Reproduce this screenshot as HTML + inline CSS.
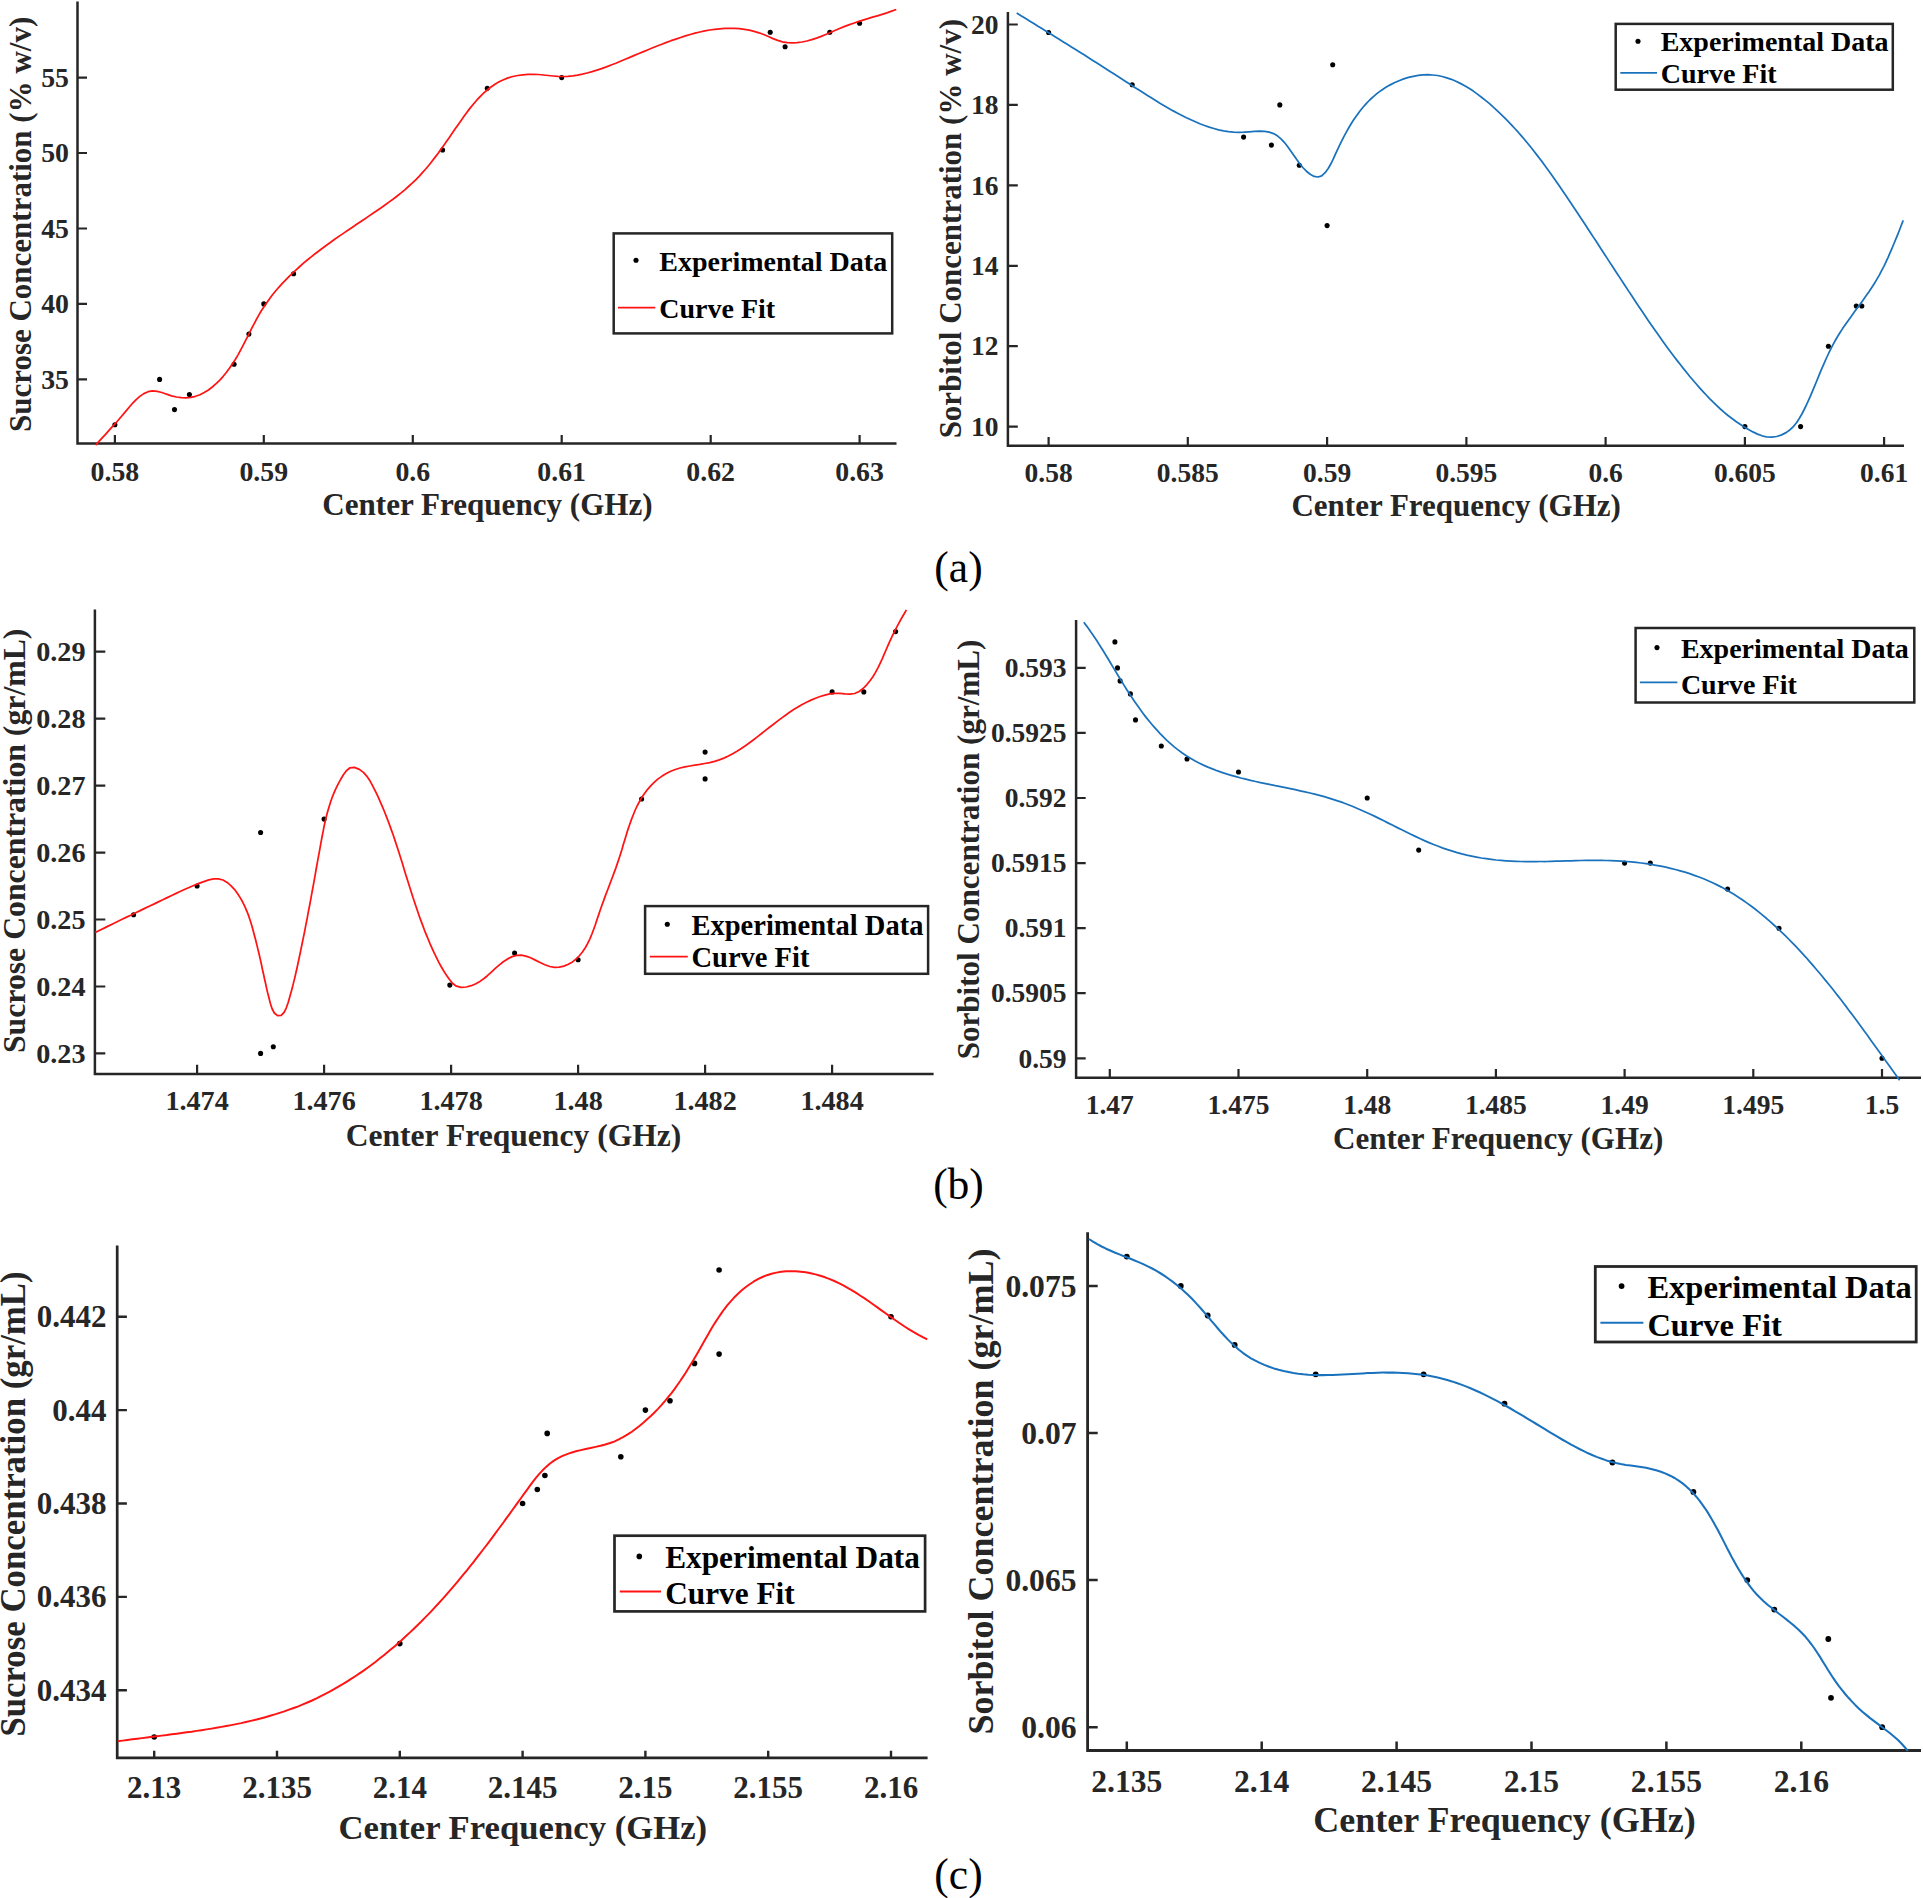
<!DOCTYPE html>
<html lang="en">
<head>
<meta charset="utf-8">
<title>Curve fits of sucrose and sorbitol concentration versus center frequency</title>
<style>
html,body{margin:0;padding:0;background:#fff;}
body{width:1923px;height:1898px;overflow:hidden;}
svg{display:block;}
text{font-family:'Liberation Serif', 'Times New Roman', Times, serif;}
.b{font-weight:bold;}
.ax{fill:#262626;}
.lg{fill:#000;}
</style>
</head>
<body>
<svg width="1923" height="1898" viewBox="0 0 1923 1898">
<rect x="0" y="0" width="1923" height="1898" fill="#ffffff"/>
<g id="panel1">
<path d="M77.5 1.5 V443.4 H896.5" fill="none" stroke="#262626" stroke-width="2.5" stroke-linecap="butt" stroke-linejoin="miter"/>
<path d="M77.5 379.4 h9.5 M77.5 303.9 h9.5 M77.5 228.5 h9.5 M77.5 153 h9.5 M77.5 77.6 h9.5 M114.9 443.4 v-8.4 M263.8 443.4 v-8.4 M412.8 443.4 v-8.4 M561.7 443.4 v-8.4 M710.7 443.4 v-8.4 M859.6 443.4 v-8.4" fill="none" stroke="#262626" stroke-width="2.2"/>
<circle cx="114.9" cy="424.7" r="2.55" fill="#000"/><circle cx="159.6" cy="379.4" r="2.55" fill="#000"/><circle cx="174.5" cy="409.6" r="2.55" fill="#000"/><circle cx="189.4" cy="394.5" r="2.55" fill="#000"/><circle cx="234.1" cy="364.3" r="2.55" fill="#000"/><circle cx="248.9" cy="334.1" r="2.55" fill="#000"/><circle cx="263.8" cy="303.9" r="2.55" fill="#000"/><circle cx="293.6" cy="273.8" r="2.55" fill="#000"/><circle cx="442.6" cy="150" r="2.55" fill="#000"/><circle cx="487.3" cy="88.2" r="2.55" fill="#000"/><circle cx="561.7" cy="77.6" r="2.55" fill="#000"/><circle cx="770.2" cy="32.3" r="2.55" fill="#000"/><circle cx="785.1" cy="46.7" r="2.55" fill="#000"/><circle cx="829.8" cy="32.3" r="2.55" fill="#000"/><circle cx="859.6" cy="23.3" r="2.55" fill="#000"/>
<path d="M95.6 445.1 L99.2 441.2 L102.7 437.4 L106 433.8 L109.2 430.2 L112.4 426.7 L115.6 423.2 L118.8 419.5 L122 415.8 L125.3 411.9 L128.7 407.8 L132.2 403.7 L135.9 399.8 L139.8 396.4 L143.8 393.6 L148.1 391.7 L152.5 390.9 L157.2 391.3 L161.9 392.5 L166.6 394.2 L171.5 395.8 L176.5 397 L181.4 397.7 L186.2 397.9 L190.9 397.4 L195.5 396.3 L200 394.7 L204.2 392.5 L208.4 390 L212.3 387 L216.1 383.7 L219.8 380.1 L223.2 376.3 L226.5 372.3 L229.6 368.1 L232.5 363.8 L235.3 359.5 L237.9 355.1 L240.3 350.7 L242.7 346.2 L245 341.7 L247.3 337.2 L249.6 332.7 L251.8 328.2 L254.1 323.8 L256.4 319.4 L258.8 315.1 L261.3 310.8 L264 306.7 L266.7 302.7 L269.6 298.7 L272.5 294.8 L275.6 291 L278.8 287.3 L282.1 283.7 L285.5 280.1 L288.9 276.6 L292.5 273.2 L296.1 269.8 L299.8 266.5 L303.5 263.2 L307.3 260 L311.2 256.9 L315.1 253.8 L319.1 250.7 L323.1 247.7 L327.2 244.7 L331.3 241.7 L335.4 238.8 L339.6 235.9 L343.7 233.1 L347.9 230.2 L352.1 227.4 L356.3 224.6 L360.5 221.7 L364.7 218.9 L368.8 216.1 L373 213.3 L377.1 210.5 L381.2 207.7 L385.3 204.8 L389.3 201.9 L393.3 199 L397.2 196 L401.1 192.9 L404.8 189.8 L408.5 186.5 L412.2 183.2 L415.7 179.8 L419.1 176.3 L422.4 172.7 L425.7 169 L428.9 165.2 L432 161.3 L435 157.4 L438 153.4 L440.9 149.3 L443.9 145.2 L446.8 141.1 L449.7 136.9 L452.5 132.8 L455.4 128.6 L458.3 124.4 L461.3 120.2 L464.2 116 L467.2 111.9 L470.3 107.9 L473.5 104 L476.7 100.2 L480.1 96.6 L483.6 93.2 L487.2 90 L491 87 L495 84.2 L499.1 81.8 L503.5 79.7 L508 77.9 L512.8 76.5 L517.7 75.5 L522.8 74.8 L528 74.4 L533.1 74.3 L538.2 74.5 L543.3 75 L548.2 75.5 L553.1 76 L558 76.4 L562.9 76.5 L567.8 76.3 L572.7 75.8 L577.6 75.1 L582.4 74.2 L587.2 73 L592.1 71.7 L596.9 70.2 L601.6 68.6 L606.4 66.9 L611.1 65 L615.8 63.2 L620.5 61.2 L625.2 59.3 L629.8 57.4 L634.4 55.4 L638.9 53.5 L643.5 51.6 L648.1 49.7 L652.7 47.8 L657.2 46 L661.8 44.2 L666.5 42.4 L671.1 40.7 L675.8 39.1 L680.6 37.5 L685.4 35.9 L690.2 34.5 L695 33.2 L699.9 32 L704.8 30.9 L709.7 30 L714.7 29.3 L719.6 28.8 L724.6 28.4 L729.5 28.3 L734.5 28.3 L739.4 28.7 L744.4 29.3 L749.3 30.1 L754.1 31.3 L759 32.8 L763.7 34.5 L768.4 36.5 L773 38.6 L777.7 40.4 L782.4 41.8 L787.2 42.7 L792.1 42.9 L797 42.7 L802 42 L806.9 41 L811.7 39.7 L816.5 38.1 L821.2 36.4 L825.8 34.5 L830.4 32.5 L834.9 30.5 L839.5 28.5 L844.1 26.6 L848.8 24.9 L853.5 23.2 L858.2 21.6 L863 20.1 L867.8 18.7 L872.5 17.2 L877.3 15.8 L882.1 14.3 L886.9 12.8 L891.6 11.2 L896.3 9.5" fill="none" stroke="#ff1414" stroke-width="1.75" stroke-linejoin="round" stroke-linecap="butt"/>
<g class="b ax" font-size="27.8">
<text x="69" y="388.7" text-anchor="end">35</text><text x="69" y="313.2" text-anchor="end">40</text><text x="69" y="237.8" text-anchor="end">45</text><text x="69" y="162.3" text-anchor="end">50</text><text x="69" y="86.9" text-anchor="end">55</text>
<text x="114.9" y="481" text-anchor="middle">0.58</text><text x="263.8" y="481" text-anchor="middle">0.59</text><text x="412.8" y="481" text-anchor="middle">0.6</text><text x="561.7" y="481" text-anchor="middle">0.61</text><text x="710.7" y="481" text-anchor="middle">0.62</text><text x="859.6" y="481" text-anchor="middle">0.63</text>
</g>
<text class="b ax" x="487.5" y="515" font-size="31.1" text-anchor="middle">Center Frequency (GHz)</text>
<text class="b ax" transform="translate(30.8 224.4) rotate(-90)" font-size="31.0" text-anchor="middle">Sucrose Concentration (% w/v)</text>
<rect x="613.7" y="233.4" width="278.5" height="100" fill="#ffffff" stroke="#262626" stroke-width="2.5"/>
<circle cx="636" cy="260.2" r="2.55" fill="#000"/><path d="M618 307.7 H655.3" stroke="#ff1414" stroke-width="1.75" fill="none"/>
<text class="b lg" x="659.3" y="271" font-size="28.0">Experimental Data</text><text class="b lg" x="659.3" y="318.4" font-size="28.0">Curve Fit</text>
</g>
<g id="panel2">
<path d="M1007.9 12 V445.8 H1904" fill="none" stroke="#262626" stroke-width="2.5" stroke-linecap="butt" stroke-linejoin="miter"/>
<path d="M1007.9 426.6 h9.9 M1007.9 346.2 h9.9 M1007.9 265.8 h9.9 M1007.9 185.3 h9.9 M1007.9 104.9 h9.9 M1007.9 24.5 h9.9 M1048.6 445.8 v-8.8 M1187.8 445.8 v-8.8 M1327.1 445.8 v-8.8 M1466.4 445.8 v-8.8 M1605.6 445.8 v-8.8 M1744.9 445.8 v-8.8 M1884.1 445.8 v-8.8" fill="none" stroke="#262626" stroke-width="2.2"/>
<circle cx="1048.6" cy="32.5" r="2.55" fill="#000"/><circle cx="1132.2" cy="84.8" r="2.55" fill="#000"/><circle cx="1243.6" cy="137.1" r="2.55" fill="#000"/><circle cx="1271.4" cy="145.1" r="2.55" fill="#000"/><circle cx="1279.8" cy="104.9" r="2.55" fill="#000"/><circle cx="1299.3" cy="165.2" r="2.55" fill="#000"/><circle cx="1332.7" cy="64.7" r="2.55" fill="#000"/><circle cx="1327.1" cy="225.6" r="2.55" fill="#000"/><circle cx="1744.9" cy="426.6" r="2.55" fill="#000"/><circle cx="1800.6" cy="426.6" r="2.55" fill="#000"/><circle cx="1828.4" cy="346.2" r="2.55" fill="#000"/><circle cx="1856.3" cy="306" r="2.55" fill="#000"/><circle cx="1861.8" cy="306" r="2.55" fill="#000"/>
<path d="M1016.7 13.1 L1021 15.7 L1025.3 18.3 L1029.5 20.9 L1033.8 23.5 L1038 26.2 L1042.3 28.8 L1046.5 31.4 L1050.8 34 L1055 36.7 L1059.2 39.3 L1063.4 41.9 L1067.6 44.6 L1071.8 47.2 L1076 49.8 L1080.3 52.5 L1084.5 55.1 L1088.6 57.8 L1092.8 60.5 L1097 63.1 L1101.2 65.8 L1105.4 68.5 L1109.6 71.2 L1113.8 73.8 L1118 76.5 L1122.2 79.2 L1126.4 81.9 L1130.6 84.6 L1134.8 87.4 L1139 90.1 L1143.3 92.8 L1147.5 95.5 L1151.7 98.1 L1156 100.8 L1160.3 103.4 L1164.6 105.9 L1168.9 108.4 L1173.2 110.9 L1177.6 113.2 L1182 115.5 L1186.4 117.7 L1190.9 119.8 L1195.4 121.8 L1199.9 123.7 L1204.5 125.5 L1209.2 127.1 L1213.9 128.5 L1218.6 129.8 L1223.5 130.8 L1228.4 131.6 L1233.5 132.1 L1238.6 132.3 L1243.8 132.2 L1249.2 131.8 L1254.4 131.4 L1259.6 131.2 L1264.6 131.3 L1269.3 132.1 L1273.5 133.6 L1277.4 135.8 L1281 138.8 L1284.3 142.3 L1287.4 146.2 L1290.4 150.4 L1293.4 154.7 L1296.4 159.1 L1299.5 163.4 L1302.8 167.5 L1306.4 171.2 L1310.2 174.3 L1314.1 176.4 L1318 177 L1321.7 175.8 L1325.1 172.7 L1328.2 168.5 L1330.9 163.8 L1333.2 159.2 L1335.2 154.6 L1337.3 150.1 L1339.4 145.6 L1341.6 141.1 L1343.9 136.6 L1346.3 132.2 L1348.8 127.8 L1351.3 123.5 L1354 119.3 L1356.9 115.2 L1359.8 111.2 L1363 107.3 L1366.2 103.6 L1369.7 100 L1373.4 96.6 L1377.2 93.4 L1381.2 90.4 L1385.5 87.6 L1389.8 85.1 L1394.3 82.8 L1399 80.7 L1403.7 78.9 L1408.5 77.4 L1413.3 76.3 L1418.2 75.4 L1423 74.9 L1427.9 74.7 L1432.7 75 L1437.5 75.5 L1442.2 76.5 L1446.8 77.8 L1451.4 79.3 L1455.9 81.2 L1460.3 83.4 L1464.7 85.7 L1469 88.3 L1473.3 91.1 L1477.4 94.1 L1481.5 97.2 L1485.5 100.4 L1489.5 103.7 L1493.3 107.1 L1497.1 110.6 L1500.8 114.1 L1504.4 117.6 L1507.9 121.2 L1511.4 124.8 L1514.8 128.5 L1518.2 132.2 L1521.4 135.9 L1524.7 139.7 L1527.8 143.5 L1530.9 147.3 L1534 151.2 L1537 155.1 L1540 159 L1543 162.9 L1545.9 166.9 L1548.8 170.9 L1551.7 174.9 L1554.5 179 L1557.3 183 L1560.1 187.1 L1562.9 191.2 L1565.7 195.3 L1568.5 199.4 L1571.2 203.5 L1574 207.7 L1576.7 211.8 L1579.5 216 L1582.3 220.2 L1585 224.3 L1587.7 228.5 L1590.5 232.7 L1593.2 236.9 L1596 241.1 L1598.7 245.3 L1601.4 249.5 L1604.2 253.7 L1606.9 257.9 L1609.6 262.1 L1612.4 266.3 L1615.1 270.5 L1617.9 274.7 L1620.6 278.9 L1623.3 283 L1626.1 287.2 L1628.8 291.4 L1631.6 295.6 L1634.3 299.7 L1637.1 303.9 L1639.8 308 L1642.6 312.1 L1645.4 316.3 L1648.2 320.4 L1651 324.5 L1653.8 328.5 L1656.7 332.6 L1659.5 336.6 L1662.4 340.7 L1665.3 344.7 L1668.2 348.7 L1671.2 352.7 L1674.2 356.7 L1677.2 360.6 L1680.3 364.5 L1683.3 368.4 L1686.5 372.3 L1689.6 376.2 L1692.8 380 L1696.1 383.8 L1699.4 387.6 L1702.8 391.3 L1706.2 395 L1709.6 398.6 L1713.2 402.2 L1716.8 405.6 L1720.4 409 L1724.2 412.3 L1728 415.5 L1732 418.5 L1736 421.5 L1740.1 424.3 L1744.2 427 L1748.5 429.5 L1752.9 431.9 L1757.5 434.1 L1762.1 435.8 L1766.8 437 L1771.7 437.2 L1776.7 436.5 L1781.6 434.9 L1786.1 432.6 L1790.1 429.7 L1793.6 426.3 L1796.7 422.5 L1799.4 418.3 L1801.9 414 L1804.2 409.5 L1806.4 405 L1808.5 400.4 L1810.5 395.8 L1812.5 391.2 L1814.4 386.6 L1816.3 382 L1818.2 377.3 L1820.1 372.7 L1822 368.1 L1824 363.6 L1826 359 L1828.1 354.5 L1830.2 350.1 L1832.5 345.7 L1834.8 341.3 L1837.3 337 L1839.9 332.8 L1842.6 328.6 L1845.4 324.5 L1848.3 320.4 L1851.2 316.4 L1854.1 312.3 L1857.1 308.3 L1860.1 304.2 L1863 300.2 L1865.9 296.1 L1868.8 292 L1871.6 287.8 L1874.2 283.7 L1876.8 279.4 L1879.3 275.1 L1881.6 270.7 L1883.9 266.3 L1886 261.8 L1888.1 257.3 L1890.1 252.7 L1892.1 248.1 L1894 243.5 L1895.9 238.9 L1897.8 234.3 L1899.6 229.7 L1901.4 225 L1903.2 220.4" fill="none" stroke="#1a72bd" stroke-width="1.75" stroke-linejoin="round" stroke-linecap="butt"/>
<g class="b ax" font-size="27.5">
<text x="998.5" y="435.8" text-anchor="end">10</text><text x="998.5" y="355.4" text-anchor="end">12</text><text x="998.5" y="275" text-anchor="end">14</text><text x="998.5" y="194.5" text-anchor="end">16</text><text x="998.5" y="114.1" text-anchor="end">18</text><text x="998.5" y="33.7" text-anchor="end">20</text>
<text x="1048.6" y="481.6" text-anchor="middle">0.58</text><text x="1187.8" y="481.6" text-anchor="middle">0.585</text><text x="1327.1" y="481.6" text-anchor="middle">0.59</text><text x="1466.4" y="481.6" text-anchor="middle">0.595</text><text x="1605.6" y="481.6" text-anchor="middle">0.6</text><text x="1744.9" y="481.6" text-anchor="middle">0.605</text><text x="1884.1" y="481.6" text-anchor="middle">0.61</text>
</g>
<text class="b ax" x="1456.2" y="516.1" font-size="31.0" text-anchor="middle">Center Frequency (GHz)</text>
<text class="b ax" transform="translate(961 228.7) rotate(-90)" font-size="31.0" text-anchor="middle">Sorbitol Concentration (% w/v)</text>
<rect x="1615.7" y="23.9" width="277.1" height="65.8" fill="#ffffff" stroke="#262626" stroke-width="2.5"/>
<circle cx="1638" cy="41.3" r="2.55" fill="#000"/><path d="M1620.3 72.9 H1657" stroke="#1a72bd" stroke-width="1.75" fill="none"/>
<text class="b lg" x="1660.7" y="51.1" font-size="28.0">Experimental Data</text><text class="b lg" x="1660.7" y="83" font-size="28.0">Curve Fit</text>
</g>
<g id="panel3">
<path d="M94.9 609.5 V1073.9 H933.6" fill="none" stroke="#262626" stroke-width="2.5" stroke-linecap="butt" stroke-linejoin="miter"/>
<path d="M94.9 1053.4 h10.4 M94.9 986.5 h10.4 M94.9 919.5 h10.4 M94.9 852.6 h10.4 M94.9 785.6 h10.4 M94.9 718.6 h10.4 M94.9 651.7 h10.4 M197.1 1073.9 v-9.1 M324.1 1073.9 v-9.1 M451.1 1073.9 v-9.1 M578.1 1073.9 v-9.1 M705.1 1073.9 v-9.1 M832.1 1073.9 v-9.1" fill="none" stroke="#262626" stroke-width="2.2"/>
<circle cx="133.6" cy="914.8" r="2.55" fill="#000"/><circle cx="197.1" cy="886" r="2.55" fill="#000"/><circle cx="260.6" cy="832.5" r="2.55" fill="#000"/><circle cx="324.1" cy="819.1" r="2.55" fill="#000"/><circle cx="260.6" cy="1053.4" r="2.55" fill="#000"/><circle cx="273.3" cy="1046.7" r="2.55" fill="#000"/><circle cx="449.8" cy="985.1" r="2.55" fill="#000"/><circle cx="514.6" cy="953" r="2.55" fill="#000"/><circle cx="578.1" cy="959.7" r="2.55" fill="#000"/><circle cx="641.6" cy="799" r="2.55" fill="#000"/><circle cx="705.1" cy="752.1" r="2.55" fill="#000"/><circle cx="705.1" cy="778.9" r="2.55" fill="#000"/><circle cx="832.1" cy="691.9" r="2.55" fill="#000"/><circle cx="863.8" cy="691.9" r="2.55" fill="#000"/><circle cx="895.6" cy="631.6" r="2.55" fill="#000"/>
<path d="M95.3 932.5 L99.7 930.3 L104.2 928.1 L108.6 925.9 L113.1 923.7 L117.6 921.5 L122.1 919.3 L126.6 917.1 L131.2 915 L135.7 912.8 L140.2 910.6 L144.7 908.4 L149.2 906.2 L153.8 904.1 L158.3 901.9 L162.8 899.8 L167.2 897.6 L171.7 895.5 L176.1 893.4 L180.6 891.3 L185 889.3 L189.6 887.3 L194.2 885.3 L198.9 883.4 L203.8 881.6 L208.8 879.9 L213.7 878.8 L218.5 878.8 L223 880 L227.1 882.4 L230.9 885.6 L234.4 889.3 L237.5 893.5 L240.3 897.9 L242.8 902.3 L245 906.8 L246.9 911.3 L248.7 915.9 L250.2 920.6 L251.7 925.3 L253 930.1 L254.3 934.9 L255.6 939.7 L256.8 944.6 L258 949.6 L259.2 954.5 L260.3 959.4 L261.4 964.3 L262.4 969.2 L263.5 974 L264.5 978.8 L265.6 983.5 L266.6 988.3 L267.7 993 L269 998 L270.3 1003.2 L272 1008.5 L274.3 1013 L277.5 1015.7 L281.2 1015.4 L284.1 1012.4 L286.3 1007.8 L288.1 1002.7 L289.6 997.6 L291 992.6 L292.3 987.7 L293.5 982.9 L294.7 978.1 L295.8 973.3 L296.9 968.5 L297.9 963.7 L299 958.8 L300 954 L301 949.1 L302 944.3 L303 939.4 L304 934.5 L305 929.6 L305.9 924.7 L306.9 919.8 L307.8 914.9 L308.7 909.9 L309.7 905 L310.6 900.1 L311.5 895.2 L312.4 890.2 L313.3 885.3 L314.2 880.4 L315.1 875.4 L315.9 870.5 L316.8 865.5 L317.7 860.6 L318.6 855.7 L319.5 850.8 L320.4 845.8 L321.3 840.9 L322.2 836 L323.2 831.1 L324.1 826.2 L325.2 821.4 L326.3 816.6 L327.6 811.7 L329 807 L330.5 802.2 L332.1 797.5 L334 792.9 L336 788.3 L338.2 783.8 L340.7 779.3 L343.4 774.8 L346.4 770.7 L350 767.8 L354.4 767.4 L359.3 769.4 L363.4 772.4 L366.7 776.1 L369.6 780.2 L372 784.6 L374.3 789.2 L376.6 793.7 L378.7 798.2 L380.7 802.8 L382.7 807.4 L384.6 812 L386.4 816.6 L388.2 821.3 L389.9 825.9 L391.6 830.6 L393.3 835.3 L394.9 840.1 L396.4 844.8 L398 849.5 L399.5 854.3 L401 859.1 L402.5 863.8 L403.9 868.6 L405.4 873.4 L406.9 878.2 L408.4 883 L409.9 887.7 L411.4 892.5 L412.9 897.3 L414.5 902 L416.1 906.8 L417.7 911.5 L419.3 916.2 L421 920.9 L422.8 925.6 L424.5 930.3 L426.4 934.9 L428.3 939.5 L430.2 944.1 L432.2 948.6 L434.3 953.2 L436.5 957.6 L438.7 962.1 L441.1 966.5 L443.6 970.8 L446.3 975.1 L449.3 979.3 L452.5 983.3 L456.4 986.2 L461.1 987.4 L466.3 987 L471.3 985.7 L475.8 983.8 L479.9 981.4 L483.7 978.7 L487.4 975.7 L491.1 972.3 L495 968.7 L499.1 965.1 L503.3 961.7 L507.6 958.9 L512.1 956.6 L516.6 955.3 L521.2 955.1 L525.8 956.1 L530.6 957.8 L535.3 960.1 L540.1 962.5 L544.9 964.7 L549.7 966.5 L554.5 967.3 L559.3 967.2 L563.9 966.1 L568.3 964.3 L572.5 961.9 L576.2 958.9 L579.6 955.5 L582.6 951.8 L585.3 947.7 L587.7 943.4 L589.9 938.8 L591.9 934 L593.7 929.2 L595.5 924.2 L597.1 919.3 L598.8 914.4 L600.4 909.5 L602.1 904.7 L603.8 900.1 L605.5 895.4 L607.3 890.8 L609 886.3 L610.7 881.7 L612.4 877.2 L614.1 872.6 L615.8 868.1 L617.4 863.4 L619 858.7 L620.5 854 L622 849.2 L623.4 844.3 L624.9 839.4 L626.4 834.5 L627.9 829.6 L629.6 824.7 L631.3 819.9 L633.1 815.2 L635 810.5 L637.1 806 L639.4 801.6 L641.9 797.3 L644.7 793.2 L647.6 789.3 L650.9 785.6 L654.4 782.1 L658.1 778.9 L662.1 776.1 L666.3 773.5 L670.7 771.3 L675.3 769.5 L680 768 L684.9 766.9 L689.8 766 L694.8 765.1 L699.8 764.4 L704.8 763.5 L709.7 762.6 L714.6 761.4 L719.3 759.9 L723.9 758.1 L728.4 756 L732.7 753.7 L737 751.2 L741.3 748.5 L745.4 745.7 L749.5 742.8 L753.6 739.7 L757.6 736.6 L761.6 733.5 L765.5 730.4 L769.5 727.3 L773.5 724.2 L777.5 721.1 L781.5 718.1 L785.5 715.2 L789.6 712.3 L793.7 709.6 L797.9 707 L802.2 704.5 L806.5 702.3 L811 700.1 L815.5 698.2 L820.1 696.5 L824.8 695.1 L829.7 693.9 L834.7 693.3 L839.8 693.3 L844.9 693.9 L849.9 694.2 L854.7 693.5 L859.1 691.5 L863.1 688.5 L866.7 684.8 L870 680.8 L872.9 676.7 L875.5 672.4 L877.8 668.1 L880 663.6 L882.1 659.1 L884 654.6 L886 650 L888 645.4 L890 640.8 L892.1 636.3 L894.3 631.8 L896.6 627.3 L899 622.9 L901.4 618.5 L903.9 614.2 L906.4 609.9" fill="none" stroke="#ff1414" stroke-width="1.75" stroke-linejoin="round" stroke-linecap="butt"/>
<g class="b ax" font-size="28.2">
<text x="85.5" y="1062.8" text-anchor="end">0.23</text><text x="85.5" y="995.9" text-anchor="end">0.24</text><text x="85.5" y="928.9" text-anchor="end">0.25</text><text x="85.5" y="862" text-anchor="end">0.26</text><text x="85.5" y="795" text-anchor="end">0.27</text><text x="85.5" y="728" text-anchor="end">0.28</text><text x="85.5" y="661.1" text-anchor="end">0.29</text>
<text x="197.1" y="1109.5" text-anchor="middle">1.474</text><text x="324.1" y="1109.5" text-anchor="middle">1.476</text><text x="451.1" y="1109.5" text-anchor="middle">1.478</text><text x="578.1" y="1109.5" text-anchor="middle">1.48</text><text x="705.1" y="1109.5" text-anchor="middle">1.482</text><text x="832.1" y="1109.5" text-anchor="middle">1.484</text>
</g>
<text class="b ax" x="513.5" y="1146.3" font-size="31.6" text-anchor="middle">Center Frequency (GHz)</text>
<text class="b ax" transform="translate(25 840.8) rotate(-90)" font-size="31.75" text-anchor="middle">Sucrose Concentration (gr/mL)</text>
<rect x="645.1" y="906.1" width="283" height="67.7" fill="#ffffff" stroke="#262626" stroke-width="2.5"/>
<circle cx="667.3" cy="924.2" r="2.55" fill="#000"/><path d="M649.8 956.6 H687.8" stroke="#ff1414" stroke-width="1.75" fill="none"/>
<text class="b lg" x="691.5" y="935" font-size="28.5">Experimental Data</text><text class="b lg" x="691.5" y="967" font-size="28.5">Curve Fit</text>
</g>
<g id="panel4">
<path d="M1076.1 620 V1077.8 H1921" fill="none" stroke="#262626" stroke-width="2.5" stroke-linecap="butt" stroke-linejoin="miter"/>
<path d="M1076.1 1058.3 h9.6 M1076.1 993.2 h9.6 M1076.1 928.2 h9.6 M1076.1 863.1 h9.6 M1076.1 798 h9.6 M1076.1 732.9 h9.6 M1076.1 667.9 h9.6 M1109.8 1077.8 v-8.9 M1238.5 1077.8 v-8.9 M1367.2 1077.8 v-8.9 M1495.9 1077.8 v-8.9 M1624.6 1077.8 v-8.9 M1753.3 1077.8 v-8.9 M1882 1077.8 v-8.9" fill="none" stroke="#262626" stroke-width="2.2"/>
<circle cx="1114.9" cy="641.9" r="2.55" fill="#000"/><circle cx="1117.5" cy="667.9" r="2.55" fill="#000"/><circle cx="1120.1" cy="680.9" r="2.55" fill="#000"/><circle cx="1130.4" cy="693.9" r="2.55" fill="#000"/><circle cx="1135.5" cy="719.9" r="2.55" fill="#000"/><circle cx="1161.3" cy="746" r="2.55" fill="#000"/><circle cx="1187" cy="759" r="2.55" fill="#000"/><circle cx="1238.5" cy="772" r="2.55" fill="#000"/><circle cx="1367.2" cy="798" r="2.55" fill="#000"/><circle cx="1418.7" cy="850.1" r="2.55" fill="#000"/><circle cx="1624.6" cy="863.1" r="2.55" fill="#000"/><circle cx="1650.3" cy="863.1" r="2.55" fill="#000"/><circle cx="1727.6" cy="889.1" r="2.55" fill="#000"/><circle cx="1779" cy="928.2" r="2.55" fill="#000"/><circle cx="1882" cy="1058.3" r="2.55" fill="#000"/>
<path d="M1083.8 622.3 L1086.7 626.1 L1089.5 630 L1092.3 634 L1095 638 L1097.7 642.1 L1100.3 646.3 L1103 650.5 L1105.6 654.7 L1108.2 659 L1110.7 663.3 L1113.3 667.6 L1115.9 671.9 L1118.5 676.2 L1121.2 680.5 L1123.8 684.9 L1126.5 689.2 L1129.3 693.5 L1132.1 697.7 L1134.9 701.9 L1137.8 706.1 L1140.8 710.3 L1143.8 714.4 L1146.9 718.4 L1150.1 722.3 L1153.4 726.2 L1156.7 729.9 L1160.1 733.6 L1163.6 737.2 L1167.1 740.6 L1170.8 743.9 L1174.5 747.1 L1178.4 750.1 L1182.3 753 L1186.3 755.7 L1190.5 758.3 L1194.7 760.7 L1199 763 L1203.4 765.1 L1207.9 767.1 L1212.4 768.9 L1217 770.7 L1221.7 772.3 L1226.4 773.9 L1231.2 775.3 L1236 776.7 L1240.8 778 L1245.7 779.2 L1250.6 780.4 L1255.6 781.5 L1260.5 782.6 L1265.5 783.6 L1270.5 784.6 L1275.4 785.7 L1280.4 786.7 L1285.4 787.7 L1290.3 788.7 L1295.2 789.7 L1300.1 790.8 L1305 791.9 L1309.9 793 L1314.7 794.2 L1319.5 795.4 L1324.3 796.7 L1329 798.1 L1333.7 799.6 L1338.4 801.1 L1343.1 802.7 L1347.7 804.5 L1352.3 806.3 L1356.8 808.2 L1361.4 810.2 L1365.9 812.2 L1370.4 814.3 L1374.9 816.4 L1379.4 818.6 L1383.8 820.8 L1388.3 823.1 L1392.8 825.3 L1397.3 827.6 L1401.8 829.8 L1406.3 832 L1410.8 834.2 L1415.3 836.4 L1419.8 838.5 L1424.4 840.6 L1429 842.6 L1433.6 844.5 L1438.3 846.3 L1442.9 848.1 L1447.6 849.7 L1452.4 851.2 L1457.1 852.6 L1461.9 853.9 L1466.8 855.1 L1471.6 856.1 L1476.5 857.1 L1481.4 858 L1486.3 858.7 L1491.3 859.4 L1496.2 860 L1501.1 860.4 L1506.1 860.8 L1511.1 861.1 L1516 861.3 L1521 861.5 L1526 861.6 L1531 861.6 L1536 861.6 L1540.9 861.5 L1545.9 861.5 L1550.9 861.3 L1556 861.2 L1561 861.1 L1566 860.9 L1571 860.8 L1576 860.6 L1581 860.5 L1586 860.4 L1591.1 860.4 L1596.1 860.4 L1601.1 860.4 L1606.1 860.5 L1611.1 860.6 L1616.2 860.9 L1621.2 861.1 L1626.2 861.5 L1631.2 861.9 L1636.2 862.4 L1641.2 863 L1646.1 863.7 L1651.1 864.4 L1656 865.3 L1660.9 866.2 L1665.8 867.2 L1670.6 868.3 L1675.4 869.5 L1680.2 870.8 L1685 872.2 L1689.7 873.7 L1694.3 875.3 L1699 877 L1703.6 878.8 L1708.1 880.7 L1712.6 882.7 L1717 884.9 L1721.4 887.1 L1725.7 889.5 L1730 892 L1734.3 894.6 L1738.4 897.2 L1742.6 900 L1746.7 902.9 L1750.7 905.8 L1754.7 908.8 L1758.6 911.9 L1762.5 915.1 L1766.4 918.3 L1770.2 921.6 L1773.9 925 L1777.7 928.4 L1781.3 931.9 L1785 935.4 L1788.6 939 L1792.1 942.6 L1795.6 946.2 L1799.1 949.9 L1802.5 953.6 L1805.9 957.3 L1809.2 961.1 L1812.5 964.9 L1815.8 968.7 L1819 972.5 L1822.2 976.3 L1825.3 980.1 L1828.5 984 L1831.6 987.8 L1834.7 991.7 L1837.7 995.6 L1840.8 999.5 L1843.8 1003.5 L1846.8 1007.4 L1849.7 1011.4 L1852.7 1015.3 L1855.7 1019.3 L1858.6 1023.3 L1861.5 1027.3 L1864.4 1031.3 L1867.4 1035.3 L1870.3 1039.4 L1873.2 1043.4 L1876.1 1047.5 L1879 1051.5 L1881.9 1055.6 L1884.9 1059.7 L1887.8 1063.7 L1890.7 1067.8 L1893.7 1071.9 L1896.6 1076 L1899.6 1080.2" fill="none" stroke="#1a72bd" stroke-width="1.75" stroke-linejoin="round" stroke-linecap="butt"/>
<g class="b ax" font-size="27.5">
<text x="1066.5" y="1067.5" text-anchor="end">0.59</text><text x="1066.5" y="1002.4" text-anchor="end">0.5905</text><text x="1066.5" y="937.4" text-anchor="end">0.591</text><text x="1066.5" y="872.3" text-anchor="end">0.5915</text><text x="1066.5" y="807.2" text-anchor="end">0.592</text><text x="1066.5" y="742.1" text-anchor="end">0.5925</text><text x="1066.5" y="677.1" text-anchor="end">0.593</text>
<text x="1109.8" y="1113.6" text-anchor="middle">1.47</text><text x="1238.5" y="1113.6" text-anchor="middle">1.475</text><text x="1367.2" y="1113.6" text-anchor="middle">1.48</text><text x="1495.9" y="1113.6" text-anchor="middle">1.485</text><text x="1624.6" y="1113.6" text-anchor="middle">1.49</text><text x="1753.3" y="1113.6" text-anchor="middle">1.495</text><text x="1882" y="1113.6" text-anchor="middle">1.5</text>
</g>
<text class="b ax" x="1498.2" y="1149.2" font-size="31.1" text-anchor="middle">Center Frequency (GHz)</text>
<text class="b ax" transform="translate(978.7 849.5) rotate(-90)" font-size="31.1" text-anchor="middle">Sorbitol Concentration (gr/mL)</text>
<rect x="1635.6" y="628" width="278.7" height="74.5" fill="#ffffff" stroke="#262626" stroke-width="2.5"/>
<circle cx="1657" cy="647.6" r="2.55" fill="#000"/><path d="M1639.9 682.4 H1677.4" stroke="#1a72bd" stroke-width="1.75" fill="none"/>
<text class="b lg" x="1680.9" y="657.7" font-size="28.0">Experimental Data</text><text class="b lg" x="1680.9" y="693.8" font-size="28.0">Curve Fit</text>
</g>
<g id="panel5">
<path d="M117.2 1245.5 V1757.9 H927.6" fill="none" stroke="#262626" stroke-width="2.7" stroke-linecap="butt" stroke-linejoin="miter"/>
<path d="M117.2 1690.3 h9.7 M117.2 1596.9 h9.7 M117.2 1503.5 h9.7 M117.2 1410.1 h9.7 M117.2 1316.7 h9.7 M154.2 1757.9 v-7.1 M277 1757.9 v-7.1 M399.8 1757.9 v-7.1 M522.6 1757.9 v-7.1 M645.4 1757.9 v-7.1 M768.2 1757.9 v-7.1 M891 1757.9 v-7.1" fill="none" stroke="#262626" stroke-width="2.4000000000000004"/>
<circle cx="154.2" cy="1737" r="2.8" fill="#000"/><circle cx="399.8" cy="1643.6" r="2.8" fill="#000"/><circle cx="522.6" cy="1503.5" r="2.8" fill="#000"/><circle cx="537.3" cy="1489.5" r="2.8" fill="#000"/><circle cx="544.9" cy="1475.5" r="2.8" fill="#000"/><circle cx="547.2" cy="1433.4" r="2.8" fill="#000"/><circle cx="620.8" cy="1456.8" r="2.8" fill="#000"/><circle cx="645.4" cy="1410.1" r="2.8" fill="#000"/><circle cx="670" cy="1400.8" r="2.8" fill="#000"/><circle cx="694.5" cy="1363.4" r="2.8" fill="#000"/><circle cx="719.1" cy="1354.1" r="2.8" fill="#000"/><circle cx="719.1" cy="1270" r="2.8" fill="#000"/><circle cx="891" cy="1316.7" r="2.8" fill="#000"/>
<path d="M117.7 1741.3 L122.6 1740.6 L127.4 1740 L132.3 1739.3 L137.2 1738.7 L142.1 1738.1 L147 1737.5 L151.9 1736.8 L156.9 1736.2 L161.8 1735.6 L166.8 1735 L171.7 1734.3 L176.7 1733.7 L181.7 1733 L186.6 1732.3 L191.6 1731.7 L196.6 1730.9 L201.5 1730.2 L206.5 1729.4 L211.5 1728.6 L216.4 1727.8 L221.4 1726.9 L226.3 1726 L231.2 1725.1 L236.2 1724.1 L241.1 1723.1 L245.9 1722 L250.8 1720.9 L255.7 1719.7 L260.5 1718.5 L265.3 1717.2 L270.1 1715.8 L274.9 1714.4 L279.6 1712.9 L284.3 1711.4 L289 1709.7 L293.7 1708 L298.3 1706.3 L302.9 1704.4 L307.4 1702.5 L312 1700.5 L316.5 1698.4 L320.9 1696.2 L325.3 1693.9 L329.7 1691.6 L334.1 1689.2 L338.4 1686.7 L342.7 1684.2 L346.9 1681.6 L351.1 1678.9 L355.3 1676.2 L359.5 1673.4 L363.6 1670.6 L367.6 1667.7 L371.7 1664.7 L375.7 1661.7 L379.6 1658.6 L383.6 1655.5 L387.4 1652.3 L391.3 1649.1 L395.1 1645.9 L398.9 1642.6 L402.6 1639.2 L406.3 1635.8 L410 1632.4 L413.6 1629 L417.2 1625.5 L420.8 1622 L424.3 1618.4 L427.8 1614.9 L431.2 1611.3 L434.6 1607.6 L438 1604 L441.3 1600.3 L444.7 1596.6 L447.9 1592.9 L451.2 1589.1 L454.4 1585.4 L457.6 1581.6 L460.8 1577.7 L463.9 1573.9 L467.1 1570.1 L470.2 1566.2 L473.3 1562.3 L476.3 1558.4 L479.4 1554.4 L482.4 1550.5 L485.5 1546.5 L488.5 1542.6 L491.5 1538.6 L494.4 1534.6 L497.4 1530.5 L500.4 1526.5 L503.4 1522.5 L506.3 1518.4 L509.3 1514.4 L512.2 1510.3 L515.2 1506.2 L518.1 1502.1 L521.1 1498 L524 1493.9 L527 1489.8 L530 1485.7 L533 1481.7 L536.1 1477.7 L539.3 1473.9 L542.6 1470.3 L546.1 1466.9 L549.7 1463.7 L553.6 1460.9 L557.7 1458.4 L562 1456.2 L566.5 1454.3 L571.1 1452.7 L575.9 1451.3 L580.8 1450.1 L585.7 1449 L590.6 1448 L595.6 1446.9 L600.5 1445.8 L605.3 1444.5 L610.1 1443 L614.7 1441.3 L619.2 1439.2 L623.5 1436.9 L627.7 1434.4 L631.8 1431.7 L635.8 1428.7 L639.7 1425.7 L643.6 1422.5 L647.4 1419.1 L651.1 1415.7 L654.7 1412.2 L658.2 1408.6 L661.6 1404.9 L664.9 1401.1 L668.1 1397.2 L671.3 1393.3 L674.3 1389.4 L677.2 1385.3 L680 1381.3 L682.8 1377.1 L685.5 1373 L688.1 1368.8 L690.7 1364.5 L693.3 1360.3 L695.8 1356 L698.3 1351.7 L700.7 1347.4 L703.2 1343 L705.6 1338.7 L708.1 1334.4 L710.6 1330.1 L713.1 1325.8 L715.8 1321.6 L718.5 1317.5 L721.3 1313.4 L724.2 1309.3 L727.2 1305.4 L730.5 1301.6 L733.9 1297.8 L737.5 1294.2 L741.2 1290.8 L745.2 1287.5 L749.3 1284.5 L753.5 1281.7 L757.9 1279.2 L762.4 1277 L766.9 1275.2 L771.6 1273.7 L776.4 1272.6 L781.2 1271.8 L786.1 1271.3 L791 1271.1 L795.9 1271.3 L800.8 1271.7 L805.8 1272.3 L810.7 1273.2 L815.5 1274.4 L820.3 1275.8 L825.1 1277.3 L829.8 1279.1 L834.3 1281 L838.8 1283.2 L843.3 1285.4 L847.6 1287.8 L852 1290.3 L856.2 1292.9 L860.4 1295.7 L864.6 1298.4 L868.8 1301.3 L872.9 1304.2 L877 1307.1 L881.1 1310.1 L885.2 1313 L889.2 1315.9 L893.3 1318.8 L897.5 1321.7 L901.6 1324.5 L905.7 1327.2 L909.9 1329.9 L914.2 1332.4 L918.5 1334.9 L922.8 1337.2 L927.2 1339.3" fill="none" stroke="#ff1414" stroke-width="1.95" stroke-linejoin="round" stroke-linecap="butt"/>
<g class="b ax" font-size="31.0">
<text x="106.5" y="1700.7" text-anchor="end">0.434</text><text x="106.5" y="1607.3" text-anchor="end">0.436</text><text x="106.5" y="1513.9" text-anchor="end">0.438</text><text x="106.5" y="1420.5" text-anchor="end">0.44</text><text x="106.5" y="1327.1" text-anchor="end">0.442</text>
<text x="154.2" y="1797.9" text-anchor="middle">2.13</text><text x="277" y="1797.9" text-anchor="middle">2.135</text><text x="399.8" y="1797.9" text-anchor="middle">2.14</text><text x="522.6" y="1797.9" text-anchor="middle">2.145</text><text x="645.4" y="1797.9" text-anchor="middle">2.15</text><text x="768.2" y="1797.9" text-anchor="middle">2.155</text><text x="891" y="1797.9" text-anchor="middle">2.16</text>
</g>
<text class="b ax" x="522.8" y="1838.8" font-size="34.7" text-anchor="middle">Center Frequency (GHz)</text>
<text class="b ax" transform="translate(25 1504) rotate(-90)" font-size="34.8" text-anchor="middle">Sucrose Concentration (gr/mL)</text>
<rect x="614.5" y="1535.7" width="310.6" height="75.7" fill="#ffffff" stroke="#262626" stroke-width="2.7"/>
<circle cx="639.3" cy="1556.4" r="2.8" fill="#000"/><path d="M619.8 1591.4 H661" stroke="#ff1414" stroke-width="1.95" fill="none"/>
<text class="b lg" x="665.2" y="1567.9" font-size="31.3">Experimental Data</text><text class="b lg" x="665.2" y="1604.1" font-size="31.3">Curve Fit</text>
</g>
<g id="panel6">
<path d="M1087.6 1232.2 V1750.5 H1921" fill="none" stroke="#262626" stroke-width="2.8" stroke-linecap="butt" stroke-linejoin="miter"/>
<path d="M1087.6 1727.2 h10.1 M1087.6 1580.1 h10.1 M1087.6 1433.1 h10.1 M1087.6 1286 h10.1 M1126.8 1750.5 v-9.1 M1261.7 1750.5 v-9.1 M1396.6 1750.5 v-9.1 M1531.5 1750.5 v-9.1 M1666.4 1750.5 v-9.1 M1801.3 1750.5 v-9.1" fill="none" stroke="#262626" stroke-width="2.5"/>
<circle cx="1126.8" cy="1256.6" r="2.9" fill="#000"/><circle cx="1180.8" cy="1286" r="2.9" fill="#000"/><circle cx="1207.7" cy="1315.5" r="2.9" fill="#000"/><circle cx="1234.7" cy="1344.9" r="2.9" fill="#000"/><circle cx="1315.7" cy="1374.3" r="2.9" fill="#000"/><circle cx="1423.6" cy="1374.3" r="2.9" fill="#000"/><circle cx="1504.5" cy="1403.7" r="2.9" fill="#000"/><circle cx="1612.4" cy="1462.5" r="2.9" fill="#000"/><circle cx="1693.4" cy="1491.9" r="2.9" fill="#000"/><circle cx="1747.3" cy="1580.1" r="2.9" fill="#000"/><circle cx="1774.3" cy="1609.6" r="2.9" fill="#000"/><circle cx="1828.3" cy="1639" r="2.9" fill="#000"/><circle cx="1831" cy="1697.8" r="2.9" fill="#000"/><circle cx="1882.2" cy="1727.2" r="2.9" fill="#000"/>
<path d="M1088.9 1239 L1093 1241.7 L1097.3 1244.2 L1101.6 1246.5 L1106.1 1248.7 L1110.7 1250.7 L1115.3 1252.7 L1120 1254.6 L1124.6 1256.5 L1129.3 1258.3 L1134 1260.2 L1138.6 1262.1 L1143.2 1264.1 L1147.8 1266.3 L1152.2 1268.5 L1156.5 1270.9 L1160.8 1273.5 L1164.9 1276.1 L1168.9 1279 L1172.9 1281.9 L1176.8 1285 L1180.6 1288.1 L1184.3 1291.4 L1187.9 1294.8 L1191.5 1298.3 L1194.9 1301.9 L1198.3 1305.6 L1201.6 1309.3 L1204.9 1313.1 L1208.2 1317 L1211.4 1320.9 L1214.7 1324.7 L1217.9 1328.5 L1221.2 1332.3 L1224.6 1336 L1228 1339.6 L1231.5 1343.1 L1235.2 1346.5 L1238.9 1349.7 L1242.8 1352.8 L1246.8 1355.6 L1251 1358.3 L1255.4 1360.7 L1259.8 1362.9 L1264.4 1364.9 L1269.1 1366.8 L1273.9 1368.4 L1278.7 1369.8 L1283.6 1371.1 L1288.5 1372.1 L1293.4 1373 L1298.3 1373.7 L1303.3 1374.3 L1308.2 1374.7 L1313.1 1374.9 L1318 1375.1 L1322.9 1375.1 L1327.9 1375 L1332.8 1374.9 L1337.8 1374.7 L1342.7 1374.5 L1347.7 1374.2 L1352.7 1373.9 L1357.6 1373.7 L1362.6 1373.4 L1367.7 1373.1 L1372.7 1372.9 L1377.7 1372.7 L1382.8 1372.6 L1387.8 1372.6 L1392.9 1372.6 L1398 1372.8 L1403 1373 L1408 1373.3 L1413.1 1373.7 L1418 1374.2 L1423 1374.8 L1427.9 1375.6 L1432.8 1376.5 L1437.7 1377.5 L1442.5 1378.7 L1447.3 1380 L1452 1381.4 L1456.7 1383 L1461.3 1384.6 L1465.9 1386.4 L1470.5 1388.3 L1475 1390.2 L1479.6 1392.3 L1484 1394.4 L1488.5 1396.6 L1492.9 1398.9 L1497.4 1401.2 L1501.8 1403.6 L1506.1 1406 L1510.5 1408.5 L1514.8 1411.1 L1519.2 1413.6 L1523.5 1416.2 L1527.8 1418.8 L1532.1 1421.4 L1536.4 1424 L1540.7 1426.6 L1544.9 1429.2 L1549.2 1431.8 L1553.5 1434.4 L1557.8 1436.9 L1562.1 1439.5 L1566.4 1441.9 L1570.7 1444.4 L1575 1446.7 L1579.4 1449 L1583.8 1451.2 L1588.2 1453.3 L1592.7 1455.3 L1597.2 1457.1 L1601.8 1458.8 L1606.4 1460.4 L1611.2 1461.8 L1616 1463 L1620.8 1464 L1625.8 1464.9 L1630.8 1465.6 L1635.9 1466.3 L1641 1467 L1646.1 1467.8 L1651.1 1468.9 L1656.1 1470.2 L1660.9 1471.7 L1665.7 1473.6 L1670.2 1475.7 L1674.6 1478 L1678.7 1480.6 L1682.6 1483.4 L1686.3 1486.5 L1689.8 1489.7 L1693.1 1493.1 L1696.3 1496.7 L1699.3 1500.4 L1702.2 1504.3 L1705 1508.3 L1707.7 1512.4 L1710.3 1516.7 L1712.8 1521 L1715.3 1525.4 L1717.7 1529.8 L1720 1534.3 L1722.4 1538.9 L1724.7 1543.4 L1727 1548 L1729.4 1552.5 L1731.7 1557 L1734.2 1561.5 L1736.7 1566 L1739.2 1570.3 L1741.9 1574.6 L1744.6 1578.8 L1747.5 1582.9 L1750.4 1586.9 L1753.6 1590.8 L1756.8 1594.5 L1760.3 1598 L1763.9 1601.4 L1767.6 1604.7 L1771.5 1607.8 L1775.4 1610.9 L1779.3 1614 L1783.3 1617 L1787.2 1620.1 L1791.1 1623.2 L1794.9 1626.4 L1798.6 1629.7 L1802.1 1633.2 L1805.5 1636.8 L1808.6 1640.6 L1811.6 1644.5 L1814.5 1648.5 L1817.3 1652.7 L1820 1656.9 L1822.6 1661.2 L1825.3 1665.5 L1827.9 1669.8 L1830.6 1674 L1833.3 1678.2 L1836.2 1682.3 L1839.1 1686.3 L1842.1 1690.2 L1845.2 1694 L1848.5 1697.8 L1851.8 1701.4 L1855.2 1704.9 L1858.8 1708.4 L1862.4 1711.7 L1866.2 1714.9 L1870.1 1718.1 L1874.1 1721.1 L1878.1 1724.1 L1882.1 1727.2 L1886.1 1730.2 L1890.1 1733.3 L1893.9 1736.5 L1897.7 1739.8 L1901.2 1743.3 L1904.6 1747 L1907.8 1750.8" fill="none" stroke="#1a72bd" stroke-width="2.05" stroke-linejoin="round" stroke-linecap="butt"/>
<g class="b ax" font-size="31.6">
<text x="1076.5" y="1737.8" text-anchor="end">0.06</text><text x="1076.5" y="1590.7" text-anchor="end">0.065</text><text x="1076.5" y="1443.7" text-anchor="end">0.07</text><text x="1076.5" y="1296.6" text-anchor="end">0.075</text>
<text x="1126.8" y="1791.6" text-anchor="middle">2.135</text><text x="1261.7" y="1791.6" text-anchor="middle">2.14</text><text x="1396.6" y="1791.6" text-anchor="middle">2.145</text><text x="1531.5" y="1791.6" text-anchor="middle">2.15</text><text x="1666.4" y="1791.6" text-anchor="middle">2.155</text><text x="1801.3" y="1791.6" text-anchor="middle">2.16</text>
</g>
<text class="b ax" x="1504.5" y="1832.2" font-size="36.0" text-anchor="middle">Center Frequency (GHz)</text>
<text class="b ax" transform="translate(993 1491.6) rotate(-90)" font-size="36.0" text-anchor="middle">Sorbitol Concentration (gr/mL)</text>
<rect x="1595.3" y="1266.5" width="320.9" height="75.5" fill="#ffffff" stroke="#262626" stroke-width="2.8"/>
<circle cx="1621.6" cy="1286.1" r="2.9" fill="#000"/><path d="M1600.4 1322.8 H1643.4" stroke="#1a72bd" stroke-width="2.05" fill="none"/>
<text class="b lg" x="1647.4" y="1297.8" font-size="32.5">Experimental Data</text><text class="b lg" x="1647.4" y="1335.6" font-size="32.5">Curve Fit</text>
</g>
<text x="958.5" y="581.5" font-size="43.5" text-anchor="middle" fill="#000">(a)</text>
<text x="958.5" y="1198.7" font-size="43.5" text-anchor="middle" fill="#000">(b)</text>
<text x="958.5" y="1888.6" font-size="43.5" text-anchor="middle" fill="#000">(c)</text>
</svg>
</body>
</html>
